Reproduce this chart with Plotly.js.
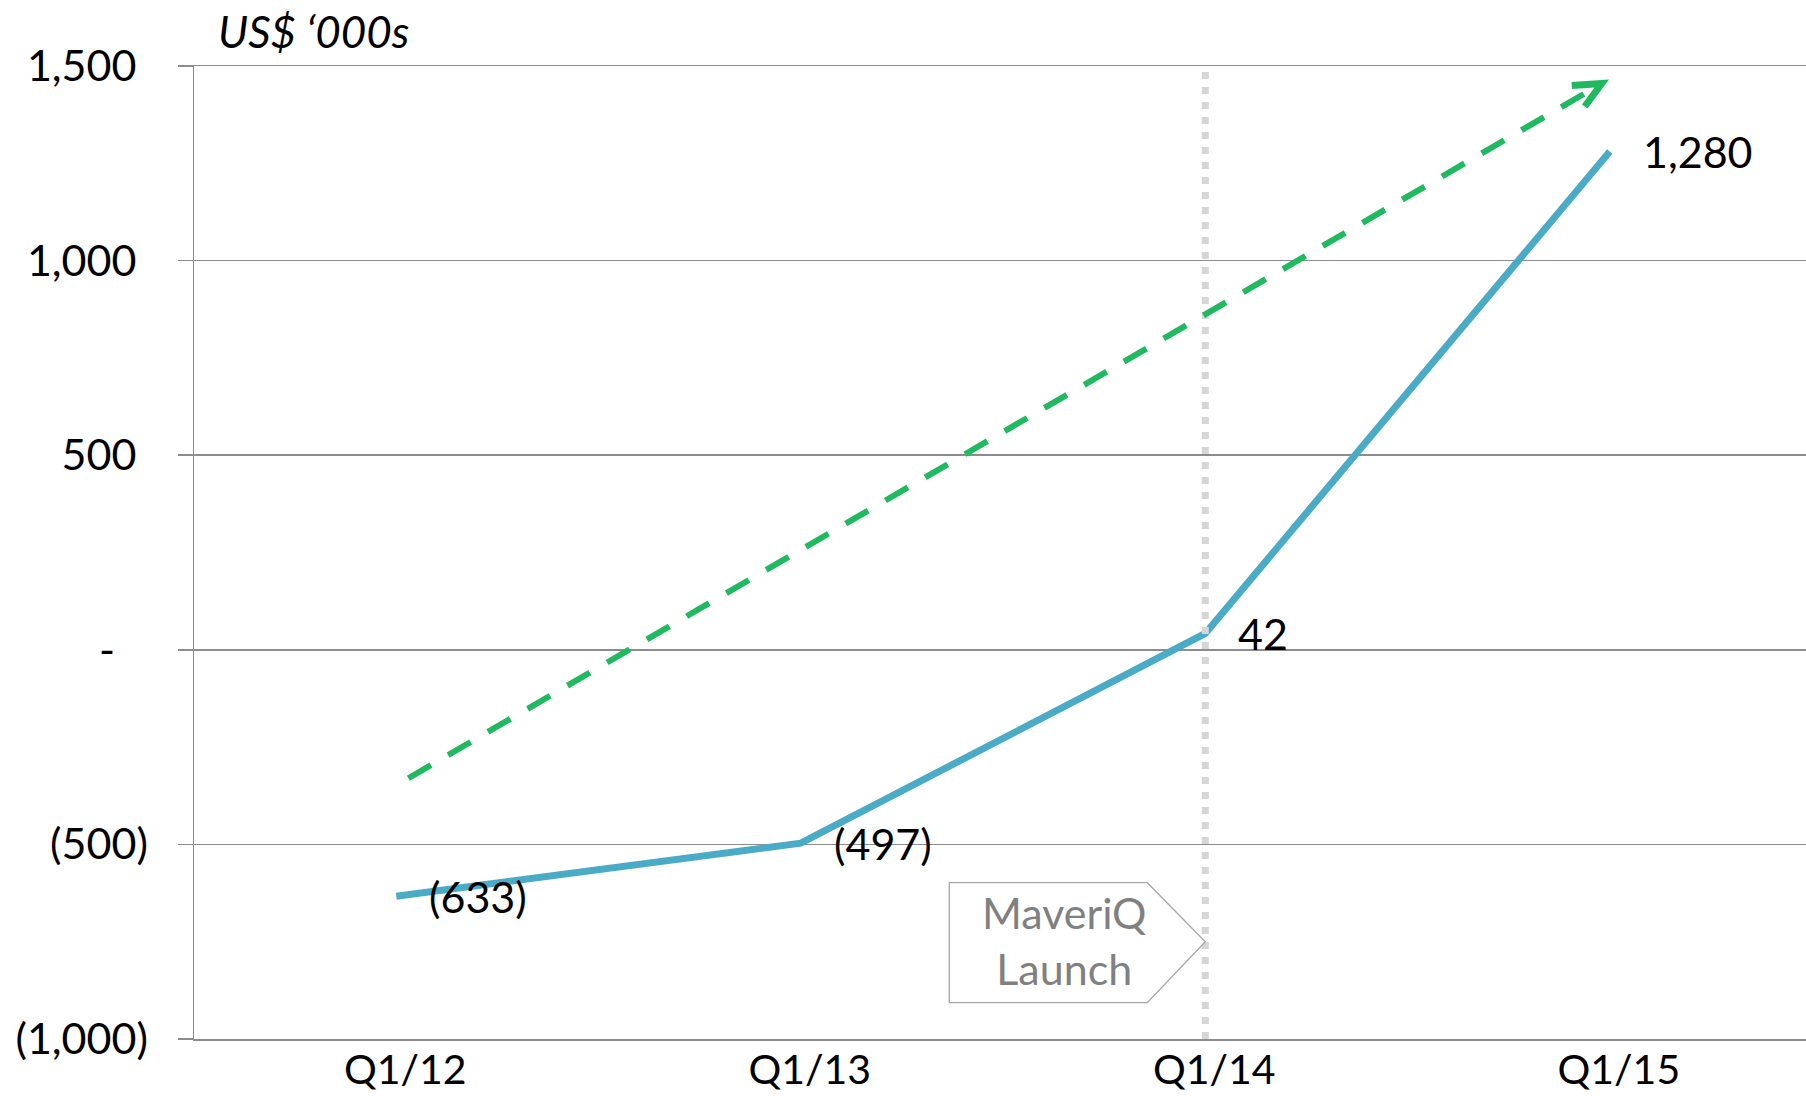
<!DOCTYPE html>
<html>
<head>
<meta charset="utf-8">
<script src="https://cdn.plot.ly/plotly-3.0.1.min.js"></script>
<style>
  html, body { margin: 0; padding: 0; background: #ffffff; }
  #chart { width: 1806px; height: 1096px; }
</style>
</head>
<body>
<div id="chart"></div>
<script>
// ---- data ----
const categories = ["Q1/12", "Q1/13", "Q1/14", "Q1/15"];
const values = [-633, -497, 42, 1280];
const yTickVals = [-1000, -500, 0, 500, 1000, 1500];
const yTickText = ["(1,000)", "(500)", "-", "500", "1,000", "1,500"];
// trend arrow (category index, value)
const trendX = [0.03, 2.98];
const trendY = [-330, 1455];
// launch marker
const launchCategoryIndex = 2;
const launchLabelY = -750;
const unitLabel = "US$ \u2018000s";
const launchText = "MaveriQ<br>Launch";

// ---- helpers ----
const FONT = "Lato, 'Open Sans', sans-serif";
const GRID = "#8c8c8c";
const BLUE = "#4aabc6";
const GREEN = "#1fba60";
const hid = s => '<span style="color:rgba(0,0,0,0)">' + s + '</span>';
function fmt(v) {
  const a = Math.abs(v).toLocaleString("en-US");
  return v < 0 ? "(" + a + ")" : a;
}
// accounting-style alignment for positive/zero tick labels
const yTickTextAligned = yTickText.map((t, i) => {
  if (yTickVals[i] > 0) return t + hid(")");
  if (yTickVals[i] === 0) return t + hid("\u2002)");
  return t;
});

const trace = {
  type: "scatter",
  mode: "lines",
  x: categories,
  y: values,
  line: { color: BLUE, width: 7 },
  hoverinfo: "skip",
  showlegend: false
};

const annotations = categories.map((c, i) => ({
  x: c, y: values[i], xref: "x", yref: "y",
  text: fmt(values[i]),
  showarrow: false,
  xanchor: "left", yanchor: "middle",
  xshift: 31,
  font: { family: FONT, size: 43, color: "#000000" }
}));

// launch callout text
annotations.push({
  x: launchCategoryIndex, y: launchLabelY, xref: "x", yref: "y",
  xshift: -141, yshift: 1,
  text: launchText, showarrow: false,
  xanchor: "center", yanchor: "middle",
  font: { family: FONT, size: 43, color: "#808080" }
});

const shapes = [
  // vertical dotted launch line
  {
    type: "line", xref: "x", yref: "paper",
    x0: launchCategoryIndex, x1: launchCategoryIndex, y0: 0, y1: 1,
    line: { color: "#d6d6d6", width: 7, dash: "7px,8px" },
    layer: "above"
  },
  // dashed trend line
  {
    type: "line", xref: "x", yref: "y",
    x0: trendX[0], y0: trendY[0], x1: trendX[1], y1: trendY[1],
    line: { color: GREEN, width: 6, dash: "26px,20px" },
    layer: "above"
  },
  // chevron arrowhead at the end of the trend
  {
    type: "path", xref: "x", yref: "y",
    xsizemode: "pixel", ysizemode: "pixel",
    xanchor: trendX[1], yanchor: trendY[1],
    path: "M -30,-2 L 0,0 L -17,-23",
    line: { color: GREEN, width: 7 },
    fillcolor: "rgba(0,0,0,0)",
    layer: "above"
  },
  // pentagon callout
  {
    type: "path", xref: "x", yref: "y",
    xsizemode: "pixel", ysizemode: "pixel",
    xanchor: launchCategoryIndex, yanchor: launchLabelY,
    path: "M -256,59 L -58,59 L 0,0 L -58,-61 L -256,-61 Z",
    line: { color: "#a6a6a6", width: 1.3 },
    fillcolor: "#ffffff",
    layer: "above"
  }
];

const layout = {
  width: 1806, height: 1096,
  margin: { l: 194, r: 0, t: 66, b: 57, pad: 0 },
  paper_bgcolor: "#ffffff",
  plot_bgcolor: "#ffffff",
  font: { family: FONT, size: 43, color: "#000000" },
  showlegend: false,
  title: {
    text: unitLabel,
    font: { family: FONT, size: 44, color: "#000000", style: "italic" },
    xref: "container", yref: "container",
    x: 218 / 1806, xanchor: "left",
    y: 1 - 33 / 1096, yanchor: "middle"
  },
  xaxis: {
    type: "category",
    categoryorder: "array", categoryarray: categories,
    range: [-0.5, 3.485],
    showgrid: false, zeroline: false,
    showline: true, mirror: true, linecolor: GRID, linewidth: 1.5,
    ticks: "",
    ticklabelshift: 9,
    ticklabelstandoff: -6,
    tickfont: { family: FONT, size: 41, color: "#000000" },
    fixedrange: true
  },
  yaxis: {
    range: [-1000, 1500],
    tickmode: "array", tickvals: yTickVals, ticktext: yTickTextAligned,
    showgrid: true, gridcolor: GRID, gridwidth: 1.5,
    zeroline: false,
    showline: true, linecolor: GRID, linewidth: 1.5,
    ticks: "outside", ticklen: 15, tickcolor: GRID, tickwidth: 1.5,
    ticklabelstandoff: 21,
    tickfont: { family: FONT, size: 43, color: "#000000" },
    fixedrange: true
  },
  shapes: shapes,
  annotations: annotations
};

Plotly.newPlot("chart", [trace], layout, { displayModeBar: false, staticPlot: true });
</script>
</body>
</html>
